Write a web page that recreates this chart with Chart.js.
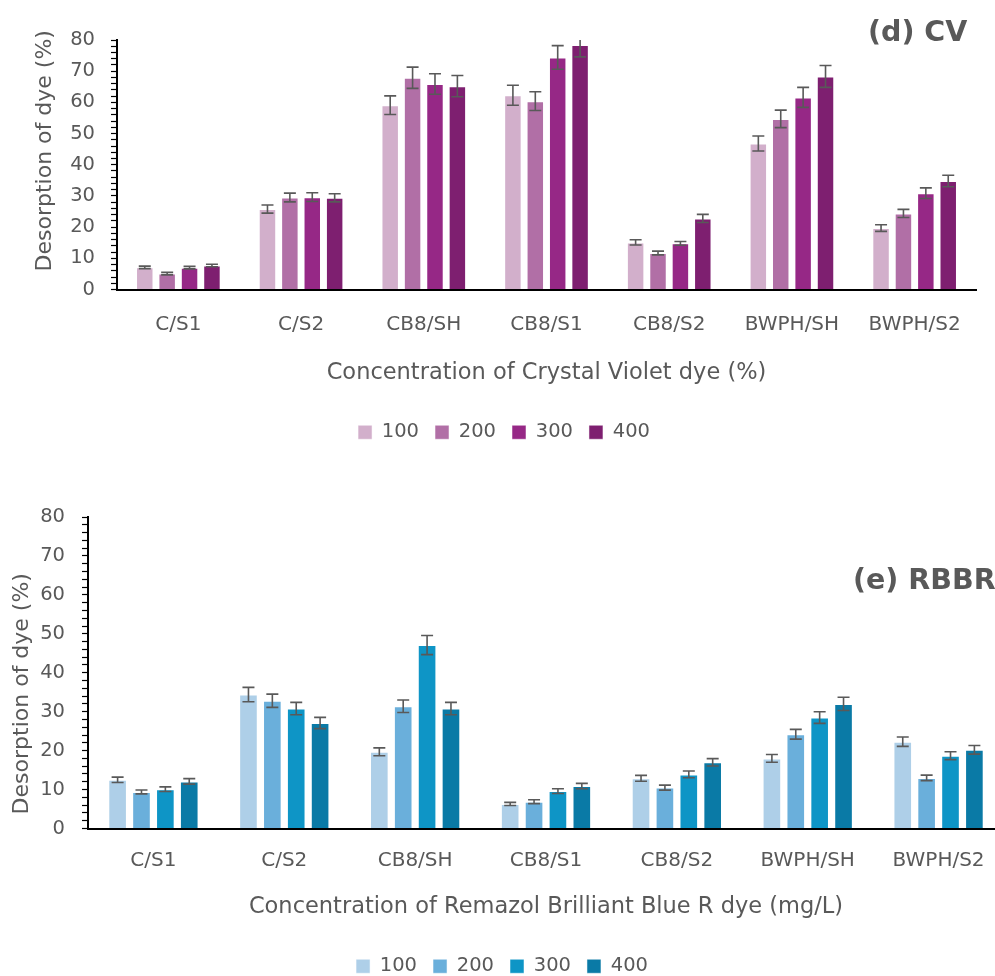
<!DOCTYPE html>
<html>
<head>
<meta charset="utf-8">
<script src="https://cdn.jsdelivr.net/npm/chart.js@4.4.1/dist/chart.umd.min.js"></script>
<style>
  html, body { margin: 0; padding: 0; background: #fff; width: 995px; height: 976px; overflow: hidden; }
  .box { position: absolute; left: 0; }
  #topBox { top: 0; width: 995px; height: 460px; }
  #botBox { top: 470px; width: 1010px; height: 530px; }
  .tag { position: absolute; font-family: "DejaVu Sans", sans-serif; font-weight: 700; color: #595959; font-size: 28.5px; line-height: 33px; white-space: nowrap; }
</style>
</head>
<body>
<div class="box" id="topBox"><canvas id="cvChart"></canvas></div>
<div class="box" id="botBox"><canvas id="rbChart"></canvas></div>
<div class="tag" style="left:868px; top:15px;">(d) CV</div>
<div class="tag" style="left:853px; top:563px;">(e) RBBR</div>
<script>
const categories = ['C/S1', 'C/S2', 'CB8/SH', 'CB8/S1', 'CB8/S2', 'BWPH/SH', 'BWPH/S2'];
const seriesNames = ['100', '200', '300', '400'];

// (d) Crystal Violet
const cv100 = [7.1, 25.8, 59.1, 62.3, 15.1, 46.8, 19.7];
const cv200 = [5.1, 29.5, 67.9, 60.4, 11.7, 54.7, 24.4];
const cv300 = [7.0, 29.6, 65.9, 74.4, 14.8, 61.6, 30.9];
const cv400 = [7.7, 29.4, 65.2, 78.4, 22.8, 68.3, 34.8];
const cv100Err = [0.4, 1.3, 3.0, 3.2, 0.85, 2.4, 1.05];
const cv200Err = [0.4, 1.4, 3.4, 3.0, 0.6, 2.8, 1.3];
const cv300Err = [0.4, 1.4, 3.3, 3.8, 0.6, 3.2, 1.7];
const cv400Err = [0.4, 1.3, 3.4, 3.8, 1.3, 3.5, 1.85];

// (e) Remazol Brilliant Blue R
const rb100 = [12.5, 34.4, 19.7, 6.3, 12.9, 18.0, 22.3];
const rb200 = [9.4, 32.8, 31.4, 6.9, 10.5, 24.2, 13.0];
const rb300 = [10.1, 30.8, 47.1, 9.6, 13.9, 28.5, 18.7];
const rb400 = [12.1, 27.1, 30.8, 10.9, 17.0, 32.0, 20.2];
const rb100Err = [0.7, 1.85, 1.0, 0.4, 0.75, 1.0, 1.2];
const rb200Err = [0.5, 1.7, 1.6, 0.5, 0.65, 1.25, 0.7];
const rb300Err = [0.6, 1.6, 2.45, 0.6, 0.85, 1.5, 1.0];
const rb400Err = [0.7, 1.45, 1.6, 0.7, 0.95, 1.7, 1.1];

const yMax = 80;
const yMajor = 10;
const yMinor = 2;

const cvColors = ['#D2AFCB', '#B16FA6', '#962886', '#7E1F70'];
const rbColors = ['#AECFE8', '#6AAFDB', '#0E95C6', '#0A7AA6'];

const textColor = '#595959';
const fontFamily = '"DejaVu Sans", sans-serif';

// draws +/- error bars on each bar, clipped to the plot area like Excel does
const errorBars = {
    id: 'errorBars',
    afterDatasetsDraw(chart) {
        const ctx = chart.ctx;
        const area = chart.chartArea;
        const yScale = chart.scales.y;
        ctx.save();
        ctx.strokeStyle = textColor;
        ctx.lineWidth = 1.6;
        chart.data.datasets.forEach((ds, i) => {
            const meta = chart.getDatasetMeta(i);
            meta.data.forEach((bar, j) => {
                const v = ds.data[j];
                const e = ds.errors[j];
                const yHi = yScale.getPixelForValue(v + e);
                const yLo = yScale.getPixelForValue(v - e);
                const x = bar.x;
                const cap = 6;
                ctx.beginPath();
                ctx.moveTo(x, Math.max(yHi, area.top));
                ctx.lineTo(x, yLo);
                if (yHi >= area.top) {
                    ctx.moveTo(x - cap, yHi);
                    ctx.lineTo(x + cap, yHi);
                }
                ctx.moveTo(x - cap, yLo);
                ctx.lineTo(x + cap, yLo);
                ctx.stroke();
            });
        });
        ctx.restore();
    }
};

function makeDatasets(values, errs, colors) {
    return values.map((vals, i) => ({
        label: seriesNames[i],
        data: vals,
        errors: errs[i],
        backgroundColor: colors[i],
        borderColor: 'rgba(255,255,255,0.5)',
        borderWidth: 1,
        categoryPercentage: 0.73,
        barPercentage: 0.78
    }));
}

function makeOptions(cfg) {
    return {
        responsive: true,
        maintainAspectRatio: false,
        animation: false,
        layout: { padding: cfg.padding },
        plugins: {
            tooltip: { enabled: false },
            legend: {
                position: 'bottom',
                labels: {
                    color: textColor,
                    font: { family: fontFamily, size: 19.5 },
                    boxWidth: 14,
                    boxHeight: 14,
                    padding: 16
                }
            }
        },
        scales: {
            x: {
                grid: { display: false },
                border: { display: true, color: '#000', width: 2 },
                ticks: {
                    color: textColor,
                    font: { family: fontFamily, size: 20 },
                    padding: cfg.xTickPad,
                    maxRotation: 0,
                    autoSkip: false
                },
                title: {
                    display: true,
                    text: cfg.xTitle,
                    color: textColor,
                    font: { family: fontFamily, size: 22.5 },
                    padding: cfg.xTitlePad
                }
            },
            y: {
                min: 0,
                max: yMax,
                afterFit(scale) { scale.width = cfg.yWidth; },
                grid: {
                    drawOnChartArea: false,
                    drawTicks: true,
                    tickLength: 6,
                    color: '#000',
                    tickWidth: 1.2
                },
                border: { display: true, color: '#000', width: 2 },
                ticks: {
                    stepSize: yMinor,
                    color: textColor,
                    font: { family: fontFamily, size: 19.5 },
                    padding: cfg.yTickPad,
                    autoSkip: false,
                    callback: (v) => (v % yMajor === 0 ? v : '')
                },
                title: {
                    display: true,
                    text: cfg.yTitle,
                    color: textColor,
                    font: { family: fontFamily, size: 22 },
                    padding: { top: cfg.yTitleTop, bottom: 0 }
                }
            }
        }
    };
}

new Chart(document.getElementById('cvChart'), {
    type: 'bar',
    data: {
        labels: categories,
        datasets: makeDatasets([cv100, cv200, cv300, cv400],
            [cv100Err, cv200Err, cv300Err, cv400Err], cvColors)
    },
    options: makeOptions({
        padding: { left: 32, right: 19, top: 40, bottom: 8 },
        xTitle: 'Concentration of Crystal Violet dye (%)',
        xTickPad: 15,
        xTitlePad: { top: 8, bottom: 20 },
        yTitle: '    Desorption of dye (%)',
        yWidth: 85,
        yTickPad: 16,
        yTitleTop: 0
    }),
    plugins: [errorBars]
});

new Chart(document.getElementById('rbChart'), {
    type: 'bar',
    data: {
        labels: categories,
        datasets: makeDatasets([rb100, rb200, rb300, rb400],
            [rb100Err, rb200Err, rb300Err, rb400Err], rbColors)
    },
    options: makeOptions({
        padding: { left: 0, right: 6, top: 47, bottom: 14 },
        xTitle: 'Concentration of Remazol Brilliant Blue R dye (mg/L)',
        xTickPad: 12,
        xTitlePad: { top: 9, bottom: 20 },
        yTitle: 'Desorption of dye (%)      ',
        yWidth: 88,
        yTickPad: 17,
        yTitleTop: 9
    }),
    plugins: [errorBars]
});
</script>
</body>
</html>
